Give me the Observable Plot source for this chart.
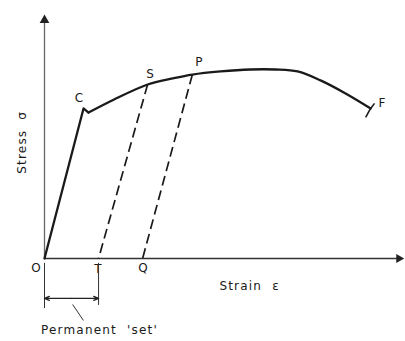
<!DOCTYPE html>
<html>
<head>
<meta charset="utf-8">
<script src="https://cdn.jsdelivr.net/npm/d3@7"></script>
<script src="https://cdn.jsdelivr.net/npm/@observablehq/plot@0.6"></script>
<style>
  html, body { margin: 0; padding: 0; background: #fff; }
  #chart svg { display: block; }
  #chart svg text { letter-spacing: 1.2px; }
</style>
</head>
<body>
<div id="chart"></div>
<script>
// Elastic loading line O -> C (yield) -> small drop
const elasticStrain = [0, 10.9, 12.3];
const elasticStress = [0, 62.0, 60.3];
// Plastic region: drop after C -> S -> P -> max -> F (fracture)
const plasticStrain = [12.3, 19.3, 28.8, 35.8, 41.3, 49.2, 57.5, 64.5, 70.7, 77.1, 84.1, 91.1];
const plasticStress = [60.3, 65.6, 71.9, 74.4, 76.0, 77.3, 78.1, 78.1, 77.3, 73.6, 68.2, 62.0];
// Unloading lines (dashed) from S and P to permanent strain T and Q
const unloadNames = ["S", "P"];
const unloadStartStrain = [28.8, 41.3];
const unloadStartStress = [71.9, 76.0];
const unloadEndNames = ["T", "Q"];
const unloadEndStrain = [15.1, 27.4];
// Point labels
const pointNames = ["C", "S", "P", "F", "O", "T", "Q"];
const pointStrain = [10.9, 28.8, 41.3, 91.1, 0, 15.1, 27.4];
const pointStress = [62.0, 71.9, 76.0, 62.0, 0, 0, 0];
// Axis texts
const xTitle = "Strain  \u03b5";
const yTitle = "Stress  \u03c3";
const setLabel = "Permanent  'set'";
const axisMax = 100;

const elastic = elasticStrain.map((x, i) => ({x, y: elasticStress[i]}));
const plastic = plasticStrain.map((x, i) => ({x, y: plasticStress[i]}));
const unload = unloadNames.map((n, i) => ({
  x1: unloadStartStrain[i], y1: unloadStartStress[i], x2: unloadEndStrain[i], y2: 0
}));
const labelOffsets = {C: [-4, -10], S: [3, -10], P: [7, -12], F: [12, -5], O: [-8, 10], T: [0, 11], Q: [1, 10]};

const ink = "#1a1a1a";
const tStrain = unloadEndStrain[unloadEndNames.indexOf("T")];
const fx = plasticStrain[plasticStrain.length - 1];
const fy = plasticStress[plasticStress.length - 1];

const labelMarks = pointNames.map((n, i) => Plot.text([n], {
  x: pointStrain[i], y: pointStress[i], text: d => d,
  dx: labelOffsets[n][0], dy: labelOffsets[n][1], fontSize: 12, fill: ink
}));

const chart = Plot.plot({
  width: 405,
  height: 341,
  marginLeft: 44,
  marginRight: 3,
  marginTop: 16,
  marginBottom: 83,
  x: {domain: [0, axisMax], axis: null},
  y: {domain: [0, axisMax], axis: null},
  style: {fontFamily: "'DejaVu Sans', sans-serif", background: "#fff", overflow: "visible"},
  marks: [
    // axes
    Plot.link([0], {x1: 0, y1: 0, x2: 0, y2: axisMax - 2, stroke: "#666", strokeWidth: 1.3}),
    Plot.link([0], {x1: 0, y1: 0, x2: axisMax - 1, y2: 0, stroke: "#333", strokeWidth: 1.5}),
    Plot.dot([0], {x: 0, y: axisMax - 1.5, symbol: "triangle", r: 3.6, fill: "#222", stroke: null}),
    Plot.dot([0], {x: axisMax - 1, y: 0, symbol: "triangle", r: 3.4, fill: "#222", stroke: null, rotate: 90}),
    // unloading dashed lines
    Plot.link(unload, {x1: "x1", y1: "y1", x2: "x2", y2: "y2",
      stroke: ink, strokeWidth: 1.7, strokeDasharray: "10,5"}),
    // elastic line
    Plot.line(elastic, {x: "x", y: "y", stroke: ink, strokeWidth: 2.3}),
    // plastic curve
    Plot.line(plastic, {x: "x", y: "y", stroke: ink, strokeWidth: 2.3, curve: "catmull-rom"}),
    // fracture mark at F
    Plot.link([{a: 1.1, b: 2.1}, {a: -1.4, b: -3.7}], {
      x1: fx, y1: fy, x2: d => fx + d.a, y2: d => fy + d.b,
      stroke: ink, strokeWidth: 1.6}),
    // point labels
    ...labelMarks,
    // axis titles
    Plot.text([xTitle], {x: 57.3, y: 0, dy: 28, text: d => d, fontSize: 12, fill: ink,
      textAnchor: "middle"}),
    Plot.text([yTitle], {x: 0, y: 48, dx: -22, text: d => d, fontSize: 12, fill: ink,
      rotate: -90, textAnchor: "middle"}),
    // permanent set bracket
    Plot.ruleX([0], {y1: -2, y2: -20.7, stroke: "#333", strokeWidth: 1}),
    Plot.ruleX([tStrain], {y1: -2, y2: -19.4, stroke: "#333", strokeWidth: 1}),
    Plot.arrow([{x1: tStrain / 2, x2: 0}, {x1: tStrain / 2, x2: tStrain}], {
      x1: "x1", x2: "x2", y1: -16.5, y2: -16.5, stroke: "#222", strokeWidth: 1.3,
      headLength: 6, headAngle: 45, bend: 0}),
    Plot.link([0], {x1: tStrain * 0.52, y1: -19, x2: tStrain * 0.72, y2: -25.6,
      stroke: "#333", strokeWidth: 1}),
    Plot.text([setLabel], {x: -1, y: -29.5, text: d => d, fontSize: 12, fill: ink,
      textAnchor: "start"})
  ]
});
document.getElementById("chart").appendChild(chart);
</script>
</body>
</html>
